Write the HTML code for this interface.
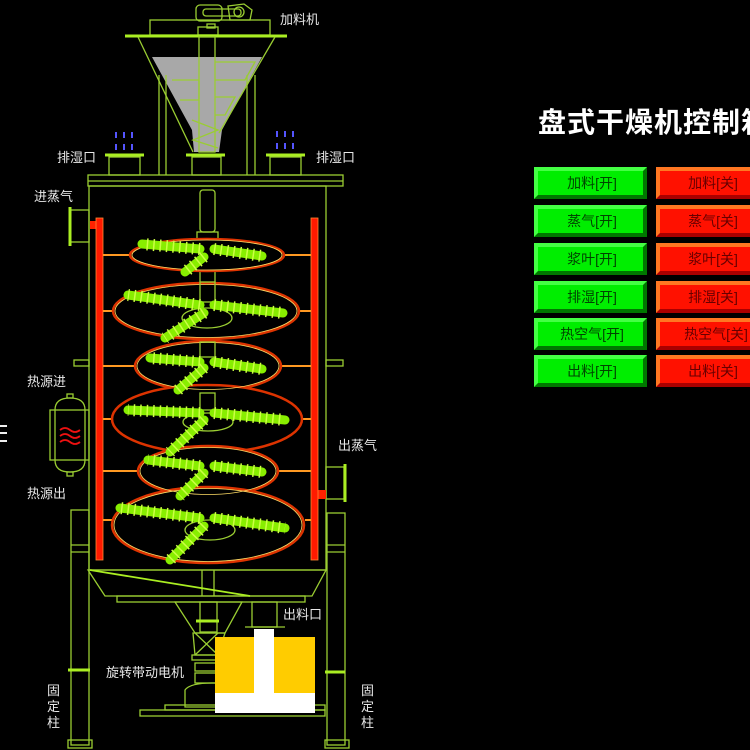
<!DOCTYPE html>
<html><head><meta charset="utf-8">
<style>
html,body{margin:0;padding:0;background:#000;width:750px;height:750px;overflow:hidden}
svg{display:block}
text{font-family:"Liberation Sans","Noto Sans CJK SC",sans-serif}
.g{fill:none;stroke:#9acd32;stroke-width:1.3}
.lbl{fill:#e8e8e8;font-size:13px}
.btn{font-size:14px}
</style></head><body>
<svg width="750" height="750" viewBox="0 0 750 750" xmlns="http://www.w3.org/2000/svg">
<rect width="750" height="750" fill="#000"/>

<!-- top motor -->
<g class="g">
<rect x="196" y="5" width="26" height="16" rx="4"/>
<rect x="203" y="9" width="38" height="7" rx="3"/>
<path d="M228 6 L244 4 L252 10 L250 20 L230 20 Z"/>
<circle cx="239" cy="12" r="5"/>
<rect x="150" y="20" width="120" height="15"/>
<rect x="207" y="24" width="8" height="4"/>
<rect x="198" y="27" width="20" height="8"/>
</g>
<line x1="125" y1="36" x2="287" y2="36" stroke="#aaee22" stroke-width="3"/>
<!-- hopper -->
<polygon points="152,57 262,57 222,130 219,152 194,152 192,130" fill="#a8a8a8"/>
<g class="g" stroke="#d0f080">
<line x1="138" y1="37" x2="193" y2="152"/>
<line x1="275" y1="37" x2="219" y2="133"/>
<rect x="199" y="37" width="16" height="115"/>
<polyline points="172,80 199,80 199,100 180,100"/>
<polyline points="215,62 255,62 245,80 215,80"/>
<polyline points="215,97 235,97 225,115 215,115"/>
<polyline points="192,120 218,130 193,140 218,148"/>
</g>
<g class="g">
<line x1="159" y1="75" x2="159" y2="175"/><line x1="166" y1="75" x2="166" y2="175"/>
<line x1="247" y1="75" x2="247" y2="175"/><line x1="255" y1="75" x2="255" y2="175"/>
<rect x="109" y="157" width="31" height="18"/>
<rect x="192" y="157" width="29" height="18"/>
<rect x="270" y="157" width="31" height="18"/>
</g>
<g stroke="#aaee22" stroke-width="3">
<line x1="105" y1="155" x2="144" y2="155"/>
<line x1="186" y1="155" x2="225" y2="155"/>
<line x1="266" y1="155" x2="305" y2="155"/>
</g>
<g stroke="#5555ff" stroke-width="2">
<line x1="116" y1="132" x2="116" y2="138"/><line x1="124" y1="132" x2="124" y2="138"/><line x1="132" y1="132" x2="132" y2="138"/>
<line x1="116" y1="144" x2="116" y2="150"/><line x1="124" y1="144" x2="124" y2="150"/><line x1="132" y1="144" x2="132" y2="150"/>
<line x1="277" y1="131" x2="277" y2="137"/><line x1="285" y1="131" x2="285" y2="137"/><line x1="293" y1="131" x2="293" y2="137"/>
<line x1="277" y1="143" x2="277" y2="149"/><line x1="285" y1="143" x2="285" y2="149"/><line x1="293" y1="143" x2="293" y2="149"/>
</g>

<!-- lid & body -->
<g class="g">
<rect x="88" y="175" width="255" height="11"/>
<line x1="88" y1="181" x2="343" y2="181"/>
<rect x="89" y="186" width="237" height="384"/>
<rect x="70" y="210" width="19" height="32"/>
<rect x="74" y="360" width="15" height="6"/>
<rect x="326" y="360" width="17" height="6"/>
<rect x="326" y="467" width="18" height="32"/>
<rect x="71" y="510" width="18" height="235"/>
<rect x="327" y="513" width="18" height="232"/>
<line x1="327" y1="545" x2="345" y2="545"/><line x1="327" y1="552" x2="345" y2="552"/>
<line x1="71" y1="545" x2="89" y2="545"/><line x1="71" y1="552" x2="89" y2="552"/>
<rect x="68" y="740" width="24" height="8"/>
<rect x="325" y="740" width="24" height="8"/>
</g>
<line x1="70" y1="207" x2="70" y2="246" stroke="#aaee22" stroke-width="3"/>
<line x1="345" y1="464" x2="345" y2="502" stroke="#aaee22" stroke-width="3"/>
<line x1="68" y1="670" x2="90" y2="670" stroke="#aaee22" stroke-width="3"/>
<line x1="325" y1="672" x2="345" y2="672" stroke="#aaee22" stroke-width="3"/>
<rect x="90" y="221" width="6" height="8" fill="#ff2200"/>
<rect x="318" y="490" width="8" height="9" fill="#ff2200"/>

<!-- heat source -->
<g class="g">
<rect x="50" y="410" width="39" height="50"/>
<path d="M55 410 Q55 398 70 398 Q85 398 85 410 L85 460 Q85 472 70 472 Q55 472 55 460 Z"/>
<rect x="67" y="394" width="6" height="4"/>
<rect x="67" y="472" width="6" height="4"/>
</g>
<g fill="none" stroke="#ee1111" stroke-width="1.8">
<path d="M60 430 q5 -4 10 0 t10 0"/><path d="M60 436 q5 -4 10 0 t10 0"/><path d="M60 442 q5 -4 10 0 t10 0"/>
</g>
<g stroke="#eee" stroke-width="2"><line x1="0" y1="426" x2="7" y2="426"/><line x1="0" y1="433" x2="7" y2="433"/><line x1="0" y1="441" x2="7" y2="441"/></g>

<!-- red bars -->
<rect x="96" y="218" width="7" height="342" fill="#ff1a00" stroke="#ff8833" stroke-width="0.8"/>
<rect x="311" y="218" width="7" height="342" fill="#ff1a00" stroke="#ff8833" stroke-width="0.8"/>

<!-- shaft -->
<g class="g" stroke="#aaee22">
<rect x="200" y="190" width="15" height="42" rx="3"/>
<rect x="197" y="232" width="21" height="14"/>
<line x1="200" y1="246" x2="200" y2="560"/><line x1="215" y1="246" x2="215" y2="560"/>
</g>

<!-- disks -->
<g stroke="#ff9922" stroke-width="2">
<line x1="103" y1="255" x2="130" y2="255"/><line x1="284" y1="255" x2="311" y2="255"/>
<line x1="103" y1="311" x2="113" y2="311"/><line x1="300" y1="311" x2="311" y2="311"/>
<line x1="103" y1="366" x2="135" y2="366"/><line x1="281" y1="366" x2="311" y2="366"/>
<line x1="103" y1="419" x2="112" y2="419"/><line x1="302" y1="419" x2="311" y2="419"/>
<line x1="103" y1="471" x2="138" y2="471"/><line x1="278" y1="471" x2="311" y2="471"/>
<line x1="103" y1="520" x2="112" y2="520"/><line x1="305" y1="520" x2="311" y2="520"/>
</g>
<g fill="#000" stroke="#dd3300" stroke-width="2.5">
<ellipse cx="207" cy="255" rx="77" ry="16"/>
<ellipse cx="206" cy="311" rx="93" ry="28"/>
<ellipse cx="208" cy="366" rx="73" ry="25"/>
<ellipse cx="207" cy="419" rx="95" ry="34"/>
<ellipse cx="208" cy="471" rx="70" ry="25"/>
<ellipse cx="208" cy="525" rx="96" ry="38"/>
</g>
<g fill="none" stroke="#ffdd66" stroke-width="0.8">
<ellipse cx="207" cy="255" rx="75" ry="15"/>
<ellipse cx="206" cy="311" rx="91" ry="26.5"/>
<ellipse cx="208" cy="366" rx="71" ry="23.5"/>
<ellipse cx="208" cy="471" rx="68" ry="23.5"/>
<ellipse cx="208" cy="525" rx="94" ry="36.5"/>
</g>
<g class="g" stroke="#aaee22">
<ellipse cx="207" cy="318" rx="25" ry="10"/>
<ellipse cx="208" cy="422" rx="25" ry="9"/>
<ellipse cx="210" cy="530" rx="25" ry="10"/>
<rect x="200" y="282" width="15" height="20"/>
<rect x="200" y="342" width="15" height="15"/>
<rect x="200" y="393" width="15" height="17"/>
</g>
<g stroke="#88ee00" stroke-width="9" stroke-linecap="round" fill="none">
<path d="M200 249 L142 244 M214 249 L262 256 M204 257 L185 272"/>
<path d="M200 305 L128 295 M214 305 L283 313 M204 313 L165 338"/>
<path d="M200 362 L150 358 M214 362 L262 369 M204 368 L178 390"/>
<path d="M200 413 L128 410 M214 413 L285 420 M204 420 L170 452"/>
<path d="M200 466 L148 460 M214 466 L262 472 M204 473 L180 496"/>
<path d="M200 518 L120 508 M214 518 L285 528 M204 526 L170 560"/>
</g>
<g stroke="#ccff44" stroke-width="12" stroke-dasharray="1.5 5" fill="none">
<path d="M200 249 L142 244 M214 249 L262 256 M204 257 L185 272"/>
<path d="M200 305 L128 295 M214 305 L283 313 M204 313 L165 338"/>
<path d="M200 362 L150 358 M214 362 L262 369 M204 368 L178 390"/>
<path d="M200 413 L128 410 M214 413 L285 420 M204 420 L170 452"/>
<path d="M200 466 L148 460 M214 466 L262 472 M204 473 L180 496"/>
<path d="M200 518 L120 508 M214 518 L285 528 M204 526 L170 560"/>
</g>

<!-- bottom cone -->
<g class="g">
<polygon points="88,570 326,570 312,596 105,596"/>
<rect x="117" y="596" width="188" height="6"/>
<line x1="202" y1="570" x2="202" y2="596"/><line x1="214" y1="570" x2="214" y2="596"/>
<polygon points="175,602 242,602 225,633 195,633"/>
<rect x="200" y="602" width="17" height="30"/>
<rect x="252" y="602" width="25" height="25"/>
<line x1="245" y1="627" x2="285" y2="627"/>
<polygon points="193,633 225,633 218,655 195,655"/>
<line x1="195" y1="633" x2="218" y2="655"/><line x1="218" y1="633" x2="195" y2="655"/>
<rect x="192" y="655" width="30" height="5"/>
<rect x="195" y="663" width="22" height="8"/>
<rect x="195" y="673" width="22" height="10"/>
<path d="M185 707 L185 690 Q190 683 212 683 L240 683 L240 707 Z"/>
<rect x="165" y="705" width="160" height="5"/>
<rect x="140" y="710" width="185" height="6"/>
<line x1="90" y1="570" x2="250" y2="596" stroke="#aaee22" stroke-width="1.8"/>
</g>
<line x1="196" y1="621" x2="219" y2="621" stroke="#aaee22" stroke-width="3"/>

<!-- yellow block -->
<rect x="215" y="637" width="100" height="56" fill="#ffcc00"/>
<rect x="254" y="629" width="20" height="64" fill="#fff"/>
<rect x="215" y="693" width="100" height="20" fill="#fff"/>

<!-- labels -->
<text class="lbl" x="280" y="24">加料机</text>
<text class="lbl" x="57" y="162">排湿口</text>
<text class="lbl" x="316" y="162">排湿口</text>
<text class="lbl" x="34" y="201">进蒸气</text>
<text class="lbl" x="27" y="386">热源进</text>
<text class="lbl" x="27" y="498">热源出</text>
<text class="lbl" x="338" y="450">出蒸气</text>
<text class="lbl" x="283" y="619">出料口</text>
<text class="lbl" x="106" y="677">旋转带动电机</text>
<text class="lbl" x="47" y="695">固</text><text class="lbl" x="47" y="711">定</text><text class="lbl" x="47" y="727">柱</text>
<text class="lbl" x="361" y="695">固</text><text class="lbl" x="361" y="711">定</text><text class="lbl" x="361" y="727">柱</text>

<!-- title -->
<text x="538" y="132" fill="#fff" font-size="28" font-weight="bold" letter-spacing="1">盘式干燥机控制箱</text>

<!-- buttons -->
<defs>
<g id="gbtn">
<rect x="0" y="0" width="113" height="32" fill="#007700"/>
<polygon points="0,0 113,0 109,4 4,4 4,28 0,32" fill="#44ff44"/>
<rect x="4" y="4" width="105" height="24" fill="#00ee00"/>
</g>
<g id="rbtn">
<rect x="0" y="0" width="100" height="32" fill="#aa0000"/>
<polygon points="0,0 100,0 100,4 4,4 4,28 0,32" fill="#ff7722"/>
<rect x="4" y="4" width="96" height="24" fill="#ff1100"/>
</g>
</defs>
<use href="#gbtn" x="534" y="167"/><use href="#rbtn" x="656" y="167"/>
<use href="#gbtn" x="534" y="205"/><use href="#rbtn" x="656" y="205"/>
<use href="#gbtn" x="534" y="243"/><use href="#rbtn" x="656" y="243"/>
<use href="#gbtn" x="534" y="281"/><use href="#rbtn" x="656" y="281"/>
<use href="#gbtn" x="534" y="318"/><use href="#rbtn" x="656" y="318"/>
<use href="#gbtn" x="534" y="355"/><use href="#rbtn" x="656" y="355"/>
<g class="btn" fill="#004400" text-anchor="middle">
<text x="592" y="188">加料[开]</text>
<text x="592" y="226">蒸气[开]</text>
<text x="592" y="264">浆叶[开]</text>
<text x="592" y="302">排湿[开]</text>
<text x="592" y="339">热空气[开]</text>
<text x="592" y="376">出料[开]</text>
</g>
<g class="btn" fill="#660000" text-anchor="middle">
<text x="713" y="188">加料[关]</text>
<text x="713" y="226">蒸气[关]</text>
<text x="713" y="264">浆叶[关]</text>
<text x="713" y="302">排湿[关]</text>
<text x="716" y="339">热空气[关]</text>
<text x="713" y="376">出料[关]</text>
</g>
</svg>
</body></html>
